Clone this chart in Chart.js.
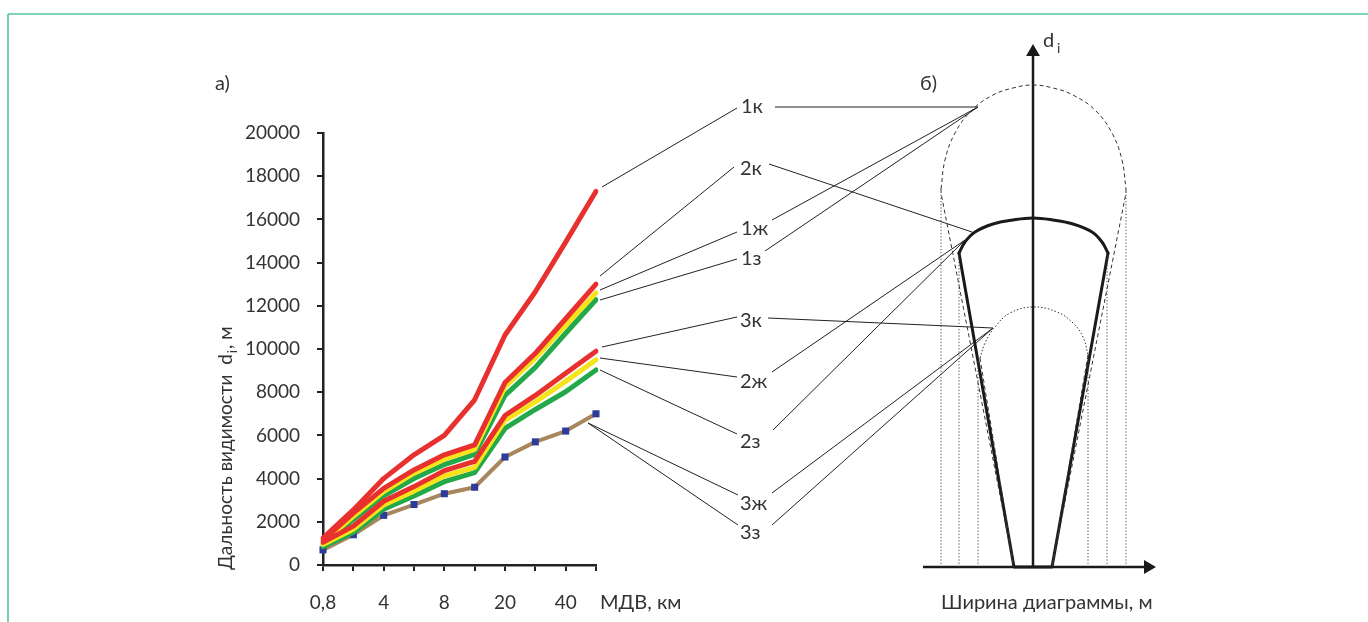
<!DOCTYPE html>
<html><head><meta charset="utf-8">
<script src="https://cdn.jsdelivr.net/npm/chart.js@4.4.1/dist/chart.umd.min.js"></script>
<style>
html,body{margin:0;padding:0;background:#fff;}
#wrap{position:relative;width:1368px;height:622px;overflow:hidden;background:#fff;}
#c1{position:absolute;left:0;top:0;width:1368px;height:622px;}
#c2{position:absolute;left:900px;top:20px;width:280px;height:600px;}
</style></head><body>
<div id="wrap"><canvas id="c1" width="1368" height="622"></canvas><canvas id="c2" width="280" height="600"></canvas></div>
<script>
// ---- data (left plot) ----
const categories = ['0,8','2','4','6','8','10','20','30','40','50'];
const shownTicks = ['0,8','4','8','20','40'];
const yMin = 0, yMax = 20000, yStep = 2000;
const s1k  = [1250, 2550, 4000, 5100, 6000, 7650, 10650, 12650, 14950, 17300];
const s2k  = [1150, 2400, 3550, 4400, 5100, 5560, 8450, 9800, 11400, 13000];
const s1zh = [1050, 2250, 3400, 4250, 4900, 5350, 8250, 9580, 11100, 12600];
const s1z  = [950, 2100, 3200, 4000, 4650, 5120, 7850, 9150, 10730, 12280];
const s3k  = [1050, 1800, 2950, 3630, 4370, 4800, 6920, 7850, 8880, 9900];
const s2zh = [950, 1650, 2780, 3420, 4120, 4520, 6700, 7550, 8500, 9500];
const s2z  = [850, 1500, 2580, 3200, 3860, 4280, 6320, 7200, 8020, 9030];
const s3   = [700, 1400, 2300, 2800, 3300, 3600, 5000, 5700, 6200, 7000];
const seriesLabels = ['1к','2к','1ж','1з','3к','2ж','2з','3ж','3з'];

// ---- data (right schematic, units: width / height above base) ----
const outer1kArc = [[-92,378],[-88,407],[-78,434],[-61,457],[-40,472],[-20,479],[0,482],[20,479],[40,472],[62,457],[79,434],[89,407],[93,378]];
const outer1kLeft = [[-92,378],[-92,374],[-19,0]];
const outer1kRight = [[93,378],[93,374],[19,0]];
const thick2kArc = [[-74,314],[-68,325],[-58,335],[-40,343],[-20,347],[0,349],[20,347],[40,343],[59,335],[69,325],[75,314]];
const thick2kBody = [[-74,314],[-19,0],[19,0],[75,314]];
const inner3kArc = [[-53,209],[-48,224],[-38,240],[-23,254],[0,260],[24,255],[40,244],[50,230],[55,212]];
const inner3kLeft = [[-53,209],[-19,0]];
const inner3kRight = [[55,212],[19,0]];
const guideX = [-92,-74,-55,55,74,93];
const guideTop = [374,314,209,212,314,374];
const axisV = [[0,0],[0,515]];
const axisH = [[-110,0],[115,0]];

const FONT = "Lato, 'DejaVu Sans', sans-serif";
const TXT = '#333';
const RED = '#e8312e', YEL = '#f5e41c', GRN = '#23a84a', BRN = '#a8875e', BLU = '#2d3c98';

function ln(label, data, color, extra) {
  return Object.assign({label, data, borderColor: color, backgroundColor: color, borderWidth: 5,
    pointRadius: 0, borderCapStyle: 'round', borderJoinStyle: 'round', tension: 0, fill: false}, extra || {});
}

const leaders = [
  {t:'1к', tx:741, ty:113, a:[[602,187],[737,108]], b:[[775,107],[978,107]]},
  {t:'2к', tx:740, ty:175, a:[[600,276],[734,167]], b:[[769,164],[972,232]]},
  {t:'1ж', tx:741, ty:235, a:[[600,290],[737,232]], b:[[772,220],[978,107]]},
  {t:'1з', tx:741, ty:265, a:[[600,300],[737,259]], b:[[765,251],[978,107]]},
  {t:'3к', tx:740, ty:327, a:[[602,347],[737,317]], b:[[768,318],[993,328]]},
  {t:'2ж', tx:740, ty:388, a:[[600,358],[737,377]], b:[[772,372],[965,240]]},
  {t:'2з', tx:740, ty:448, a:[[600,370],[737,434]], b:[[773,430],[965,240]]},
  {t:'3ж', tx:740, ty:510, a:[[588,423],[738,495]], b:[[772,493],[993,328]]},
  {t:'3з', tx:740, ty:539, a:[[588,423],[738,525]], b:[[772,525],[993,328]]}
];

const decor = {
  id: 'decor',
  beforeDraw(chart) {
    const c = chart.ctx;
    c.save();
    c.fillStyle = '#fff'; c.fillRect(0,0,chart.width,chart.height);
    c.strokeStyle = '#7fd4bb'; c.lineWidth = 2;
    c.beginPath(); c.moveTo(8,14); c.lineTo(1368,14); c.stroke();
    c.strokeStyle = '#3fbf92'; c.lineWidth = 1.5;
    c.beginPath(); c.moveTo(8,14); c.lineTo(8,622); c.stroke();
    c.restore();
  },
  afterDraw(chart) {
    const c = chart.ctx;
    c.save();
    c.fillStyle = TXT; c.strokeStyle = '#222'; c.lineWidth = 1;
    leaders.forEach(L => {
      [L.a, L.b].forEach(seg => { c.beginPath(); c.moveTo(seg[0][0], seg[0][1]); c.lineTo(seg[1][0], seg[1][1]); c.stroke(); });
      c.font = '20px ' + FONT; c.textAlign = 'left'; c.textBaseline = 'alphabetic';
      c.fillText(L.t, L.tx, L.ty);
    });
    c.font = '20px ' + FONT;
    c.fillText('а)', 215, 90);
    c.fillText('б)', 920, 90);
    c.fillText('МДВ, км', 600, 609);
    c.fillText('d', 1043, 47);
    c.font = '14px ' + FONT; c.fillText('i', 1057, 53);
    c.font = '20px ' + FONT;
    c.fillText('Ширина диаграммы, м', 941, 609);
    c.translate(232, 570); c.rotate(-Math.PI/2);
    c.font = '19px ' + FONT;
    const p1 = 'Дальность видимости  d';
    c.fillText(p1, 0, 0);
    let w = c.measureText(p1).width;
    c.font = '13px ' + FONT; c.fillText('i', w + 1, 5);
    w += c.measureText('i').width + 2;
    c.font = '19px ' + FONT; c.fillText(', м', w, 0);
    c.restore();
  }
};

new Chart(document.getElementById('c1'), {
  type: 'line',
  data: {
    labels: categories,
    datasets: [
      ln('1к', s1k, RED), ln('2к', s2k, RED), ln('3к', s3k, RED),
      ln('1ж', s1zh, YEL), ln('2ж', s2zh, YEL),
      ln('1з', s1z, GRN), ln('2з', s2z, GRN),
      ln('3ж/3з', s3, BRN, {borderWidth: 4, pointRadius: 5, pointStyle: 'rect', pointBackgroundColor: BLU, pointBorderColor: BLU, pointBorderWidth: 0})
    ]
  },
  options: {
    responsive: false, animation: false, devicePixelRatio: 1,
    layout: {autoPadding: false, padding: {top: 133, right: 772, left: 0, bottom: 0}},
    plugins: {legend: {display: false}, tooltip: {enabled: false}},
    scales: {
      x: {
        type: 'category', offset: false,
        grid: {display: true, drawOnChartArea: false, drawTicks: true, tickLength: 6, color: '#222', lineWidth: 2},
        border: {display: true, color: '#222', width: 2.5},
        ticks: {autoSkip: false, maxRotation: 0, padding: 20, color: TXT, font: {family: FONT, size: 19},
          callback: function(v) { const l = this.getLabelForValue(v); return shownTicks.includes(l) ? l : ''; }},
        afterFit: s => { s.height = 57; }
      },
      y: {
        min: yMin, max: yMax,
        grid: {display: true, drawOnChartArea: false, drawTicks: true, tickLength: 6, color: '#222', lineWidth: 2},
        border: {display: true, color: '#222', width: 2.5},
        ticks: {stepSize: yStep, padding: 17, color: TXT, font: {family: FONT, size: 19},
          callback: v => String(v)},
        afterFit: s => { s.width = 323; }
      }
    }
  },
  plugins: [decor]
});

// ---- schematic ----
const pts = a => a.map(p => ({x: p[0], y: p[1]}));
function sd(data, opts) {
  return Object.assign({data: pts(data), showLine: true, pointRadius: 0, borderColor: '#222', borderWidth: 1, fill: false, tension: 0, clip: false}, opts);
}
const sDatasets = [
  sd(outer1kArc, {borderDash: [4,3], borderColor: '#333', tension: 0.4}),
  sd(outer1kLeft, {borderDash: [4,3], borderColor: '#333'}),
  sd(outer1kRight, {borderDash: [4,3], borderColor: '#333'}),
  sd(inner3kArc, {borderDash: [1.5,2], borderColor: '#333', tension: 0.4}),
  sd(inner3kLeft, {borderDash: [4,3], borderColor: '#333'}),
  sd(inner3kRight, {borderDash: [4,3], borderColor: '#333'})
];
guideX.forEach((gx, i) => sDatasets.push(sd([[gx,0],[gx,guideTop[i]]], {borderDash: [1.2,2], borderColor: '#444'})));
sDatasets.push(sd(thick2kArc, {borderWidth: 3, borderColor: '#1a1a1a', tension: 0.4, borderCapStyle: 'round'}));
sDatasets.push(sd(thick2kBody, {borderWidth: 3, borderColor: '#1a1a1a', borderJoinStyle: 'round', borderCapStyle: 'round'}));
sDatasets.push(sd(axisV, {borderWidth: 2.5, borderColor: '#1a1a1a', pointRadius: [0,8], pointStyle: 'triangle', pointRotation: 0, pointBackgroundColor: '#1a1a1a', pointBorderWidth: 0}));
sDatasets.push(sd(axisH, {borderWidth: 2.5, borderColor: '#1a1a1a', pointRadius: [0,8], pointStyle: 'triangle', pointRotation: 90, pointBackgroundColor: '#1a1a1a', pointBorderWidth: 0}));

new Chart(document.getElementById('c2'), {
  type: 'scatter',
  data: {datasets: sDatasets},
  options: {
    responsive: false, animation: false, devicePixelRatio: 1,
    layout: {autoPadding: false, padding: 0},
    plugins: {legend: {display: false}, tooltip: {enabled: false}},
    scales: {
      x: {type: 'linear', min: -133, max: 147, display: false},
      y: {type: 'linear', min: -53, max: 547, display: false}
    }
  }
});
</script>
</body></html>
